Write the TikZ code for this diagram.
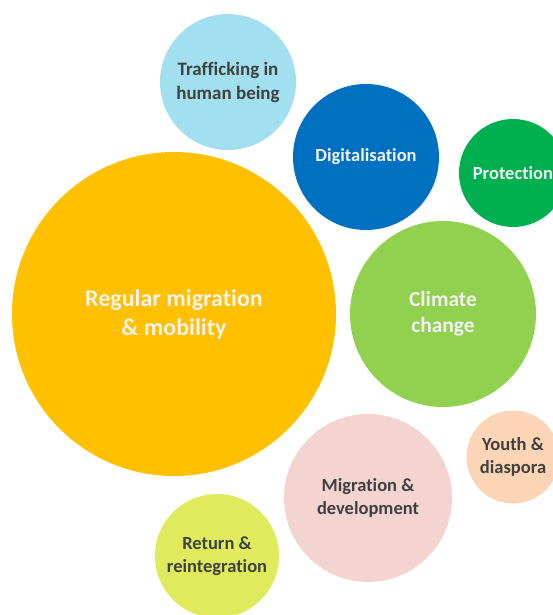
\documentclass[tikz,border=0pt]{standalone}
\usepackage{fontspec}
\setmainfont{Carlito}[Ligatures=NoCommon]
\usepackage{xcolor}
\usepackage{tikz}

\definecolor{cOrange}{HTML}{FFC000}
\definecolor{cSky}{HTML}{A3E0EF}
\definecolor{cBlue}{HTML}{0070C0}
\definecolor{cGreen}{HTML}{00B050}
\definecolor{cLime}{HTML}{92D050}
\definecolor{cPeach}{HTML}{FBD5B5}
\definecolor{cRose}{HTML}{F4D4D0}
\definecolor{cYellow}{HTML}{DFEB5C}
\definecolor{darktext}{HTML}{404040}
\definecolor{lighttext}{HTML}{F2F2F2}

\tikzstyle{bubble} = [circle, inner sep=0pt, align=center, draw=none]
\tikzstyle{darklabel} = [text=darktext, font=\fontsize{18.5}{23.5}\selectfont\bfseries]
\tikzstyle{lightlabel} = [text=lighttext, font=\fontsize{18.5}{23.5}\selectfont\bfseries]

\begin{document}
\begin{tikzpicture}[x=1pt, y=-1pt]
        \useasboundingbox (0,0) rectangle (553,615);
        \clip (0,0) rectangle (553,615);

        % the large central topic
        \node (regular) [bubble, minimum size=324pt, fill=cOrange, text=lighttext,
            font=\fontsize{24}{29}\selectfont\bfseries] at (174,314) {Regular migration\\\& mobility};

        % smaller topics around it
        \node (traffic) [bubble, darklabel, minimum size=136pt, fill=cSky,
            font=\fontsize{19}{24}\selectfont\bfseries] at (228,82) {Trafficking in\\human being};
        \node (digital) [bubble, lightlabel, minimum size=146pt, fill=cBlue] at (366,157) {Digitalisation};
        \node (protect) [bubble, lightlabel, minimum size=108pt, fill=cGreen] at (513,173) {Protection};
        \node (climate) [bubble, minimum size=186pt, fill=cLime, text=lighttext,
            font=\fontsize{21.5}{25.5}\selectfont\bfseries] at (443,314) {Climate\\change};
        \node (youth) [bubble, darklabel, minimum size=93pt, fill=cPeach] at (513,457) {Youth \&\\diaspora};
        \node (develop) [bubble, darklabel, minimum size=168pt, fill=cRose] at (368,498) {Migration \&\\development};
        \node (return) [bubble, darklabel, minimum size=124pt, fill=cYellow] at (217,556) {Return \&\\reintegration};
    \end{tikzpicture}
\end{document}
